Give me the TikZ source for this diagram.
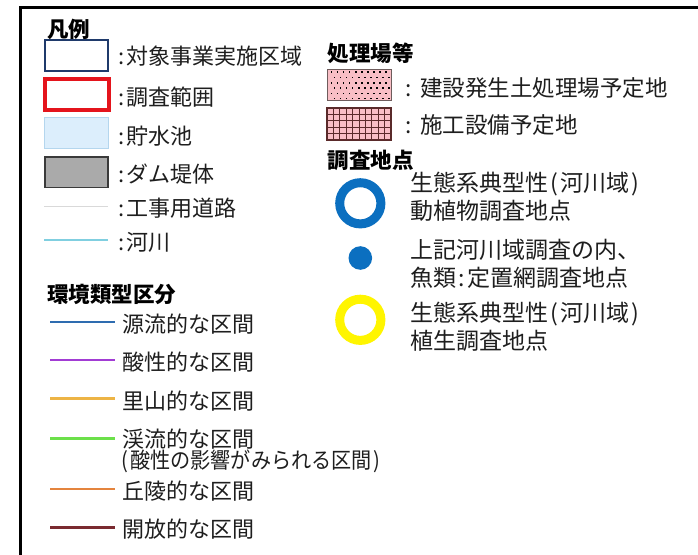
\documentclass[tikz,border=0pt]{standalone}
\usepackage{fontspec}
\setmainfont{Noto Sans CJK JP}
\definecolor{tc}{HTML}{1E1E1E}
\definecolor{navy}{HTML}{1F3A6B}
\definecolor{redb}{HTML}{E4141C}
\definecolor{lbfill}{HTML}{DCEEFC}
\definecolor{lbdraw}{HTML}{B4D6EE}
\definecolor{damfill}{HTML}{AAAAAA}
\definecolor{damdraw}{HTML}{3A3A3A}
\definecolor{road}{HTML}{D9D9D9}
\definecolor{river}{HTML}{80CFE0}
\definecolor{pinkf}{HTML}{F8BEC5}
\definecolor{pinkd}{HTML}{6E5C5C}
\definecolor{gridc}{HTML}{5A2A2A}
\definecolor{ringblue}{HTML}{0B6FC0}
\definecolor{ringyel}{HTML}{FFF500}
\definecolor{ca}{HTML}{2E6CB0}
\definecolor{cb}{HTML}{A23CD4}
\definecolor{cc}{HTML}{EDB445}
\definecolor{cd}{HTML}{6CE04A}
\definecolor{ce}{HTML}{E4843E}
\definecolor{cf}{HTML}{7A2A30}
\newcommand\lp{\makebox[0.5em][c]{(}}
\newcommand\rp{\makebox[0.5em][c]{)}}
\newcommand\cln{\makebox[0.45em][c]{:}}
\begin{document}
\begin{tikzpicture}[x=1pt,y=-1pt,
  txt/.style={anchor=west, inner sep=0pt, font=\fontsize{22}{25}\selectfont, text=tc},
  rtxt/.style={anchor=west, inner sep=0pt, font=\fontsize{22.5}{26}\selectfont, text=tc},
  ringtxt/.style={anchor=west, inner sep=0pt, align=left, font=\fontsize{23}{28}\selectfont, text=tc},
  hdr/.style={anchor=west, inner sep=0pt, font=\fontsize{21.5}{24}\selectfont\bfseries, text=black},
  legline/.style={line width=2.8pt},
  ring/.style={line width=9pt}]
\useasboundingbox (0,0) rectangle (698,554);
\fill[white] (0,0) rectangle (698,554);
% frame
\draw[line width=2.6pt] (20.3,556) -- (20.3,7.3) -- (700,7.3);

% ---------- left legend ----------
\node[hdr] (hleg) at (47,29.5) {凡例};

\draw[navy, line width=1.8pt] (45,40) rectangle (108,71);
\node[txt] (t1) at (116,56.5) {\cln 対象事業実施区域};

\draw[redb, line width=3.6pt] (44.8,79) rectangle (109.2,110);
\node[txt] (t2) at (116,97) {\cln 調査範囲};

\draw[lbdraw, fill=lbfill, line width=1.2pt] (44.5,117.5) rectangle (108.5,148.5);
\node[txt] (t3) at (116,136) {\cln 貯水池};

\draw[damdraw, fill=damfill, line width=1.6pt] (45,157) rectangle (108,187.5);
\node[txt] (t4) at (116,174) {\cln ダム堤体};

\draw[road, line width=1pt] (44,206) -- (108,206);
\node[txt] (t5) at (116,208) {\cln 工事用道路};

\draw[river, line width=2pt] (44,239.5) -- (108,239.5);
\node[txt] (t6) at (116,242) {\cln 河川};

% ---------- processing sites ----------
\node[hdr] (hproc) at (327.5,53) {処理場等};

\fill[pinkf] (327,69) rectangle (391,100);
\foreach \r in {0,...,5}{
  \foreach \c in {0,...,9}{
    \fill[black] ({330.5+6.1*\c+mod(\r,2)*3.05},{71.3+5.3*\r}) rectangle +(1.6,1.6);
  }
}
\draw[pinkd, line width=1pt] (327,69) rectangle (391,100);
\node[rtxt] (p1) at (405,88) {:\hspace{9pt}建設発生土処理場予定地};

\fill[pinkf] (327,108) rectangle (391,140);
\foreach \i in {1,...,9} \draw[gridc, line width=0.9pt] ({327+6.4*\i},108) -- ({327+6.4*\i},140);
\foreach \j in {1,...,4} \draw[gridc, line width=0.9pt] (327,{108+6.4*\j}) -- (391,{108+6.4*\j});
\draw[gridc, line width=1.3pt] (327,108) rectangle (391,140);
\node[rtxt] (p2) at (405,125) {:\hspace{9pt}施工設備予定地};

% ---------- survey points ----------
\node[hdr] (hsurv) at (327.5,160) {調査地点};

\draw[ringblue, ring] (360.3,203.3) circle (20.6);
\node[ringtxt] (s1) at (410.5,197) {生態系典型性\lp 河川域\rp\\動植物調査地点};

\fill[ringblue] (360.3,258) circle (11.8);
\node[ringtxt] (s2) at (410.5,264) {上記河川域調査の内、\\魚類\cln 定置網調査地点};

\draw[ringyel, ring] (360.3,319.8) circle (20.6);
\node[ringtxt] (s3) at (410.5,327) {生態系典型性\lp 河川域\rp\\植生調査地点};

% ---------- environment classes ----------
\node[hdr] (henv) at (47,294) {環境類型区分};

\draw[ca, legline] (50,322) -- (115,322);
\node[txt] (e1) at (122,324) {源流的な区間};
\draw[cb, legline] (50,360) -- (115,360);
\node[txt] (e2) at (122,362) {酸性的な区間};
\draw[cc, legline] (50,398.3) -- (115,398.3);
\node[txt] (e3) at (122,401) {里山的な区間};
\draw[cd, legline] (50,438.3) -- (115,438.3);
\node[txt] (e4) at (122,439) {渓流的な区間};
\node[txt] (e4b) at (120,461) {\scalebox{0.915}[1]{\lp 酸性の影響がみられる区間\rp}};
\draw[ce, legline] (50,489) -- (115,489);
\node[txt] (e5) at (122,491) {丘陵的な区間};
\draw[cf, legline] (50,527.3) -- (115,527.3);
\node[txt] (e6) at (122,529) {開放的な区間};
\end{tikzpicture}
\end{document}
